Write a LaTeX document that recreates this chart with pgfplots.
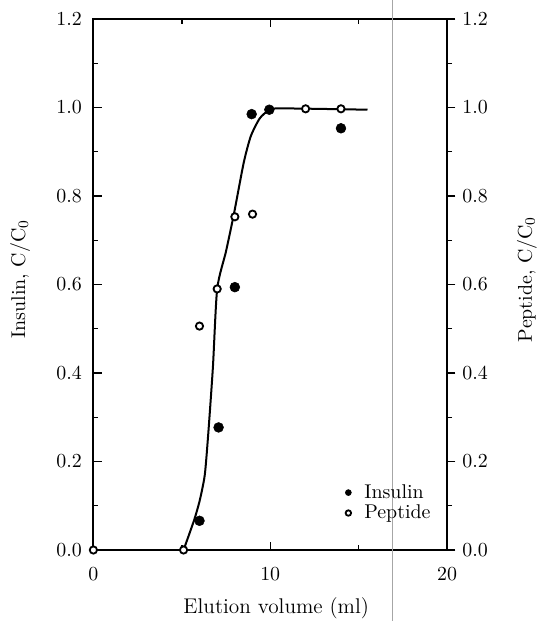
\documentclass[11pt,border=0pt]{standalone}
\usepackage{pgfplots}
\pgfplotsset{compat=1.18}
\begin{document}
\begin{tikzpicture}
\pgfplotsset{
  base/.style={
    width=194.5pt, height=292pt, scale only axis,
    xmin=0, xmax=20, ymin=0, ymax=1.2,
    xtick={0,10,20}, minor xtick={5,15},
    ytick={0,0.2,0.4,0.6,0.8,1.0,1.2}, minor y tick num=1,
    yticklabel style={/pgf/number format/fixed,
      /pgf/number format/fixed zerofill,
      /pgf/number format/precision=1},
    major tick length=4.6pt, minor tick length=2.8pt,
    axis line style={line width=1pt},
    every tick/.style={black, line width=0.8pt},
  }
}
\begin{axis}[base,
  xtick pos=both, ytick pos=left, tick align=inside,
  xticklabel style={yshift=-6pt},
  yticklabel style={xshift=-2.5pt},
  clip=false,
  xlabel={Elution volume (ml)},
  xlabel style={at={(axis description cs:0.517,-0.109)}, anchor=center,
    font=\fontsize{11.7}{14}\selectfont},
  ylabel={Insulin, C/C$_0$},
  ylabel style={at={(axis description cs:-0.207,0.51)}, anchor=center},
  legend style={draw=none, fill=none, at={(axis cs:13.92,0.166)},
    anchor=north west, row sep=-2pt, cells={anchor=west}},
  legend image code/.code={\draw[#1] plot coordinates {(0cm,0cm)};
    \path (6.5pt,0pt);},
]
% fitted curve
\addplot[black, line width=1.1pt, smooth, tension=0.4, forget plot] coordinates {
  (5.1,0) (5.7,0.068) (6.02,0.113) (6.3,0.17) (6.5,0.265) (6.76,0.414)
  (7.0,0.59) (7.5,0.675) (7.95,0.76) (8.5,0.875) (8.9,0.935)
  (9.4,0.975) (9.9,0.993) (10.5,0.998) (15.5,0.995)};
\addplot[only marks, mark=*, mark size=2.7pt,
  mark options={fill=black, draw=black, line width=0.3pt},
  legend image post style={mark size=1.65pt}] coordinates {
  (6,0.066) (7.08,0.277) (8,0.594) (8.95,0.985) (9.95,0.995) (14,0.953)};
\addlegendentry{Insulin}
\addplot[only marks, mark=*, mark size=2.0pt,
  mark options={fill=white, draw=black, line width=1pt},
  legend image post style={mark size=1.5pt, line width=0.6pt}] coordinates {
  (0,0) (5.1,0) (6,0.506) (7,0.59) (8,0.753) (9,0.759) (12,0.997) (14,0.997)};
\addlegendentry{Peptide}
% scan fold line
\draw[gray!70, line width=0.5pt] (axis cs:16.93,1.243) -- (axis cs:16.93,-0.160);
\coordinate (bbl) at (axis description cs:-0.264,-0.1337);
\coordinate (btr) at (axis description cs:1.2573,1.0358);
\end{axis}
\begin{axis}[base,
  axis x line=none, axis y line*=right, tick align=outside,
  ylabel={Peptide, C/C$_0$},
  ylabel style={at={(axis description cs:1.226,0.51)}, anchor=center},
]
\end{axis}
\pgfresetboundingbox
\path[use as bounding box] (bbl) rectangle (btr);
\end{tikzpicture}
\end{document}
